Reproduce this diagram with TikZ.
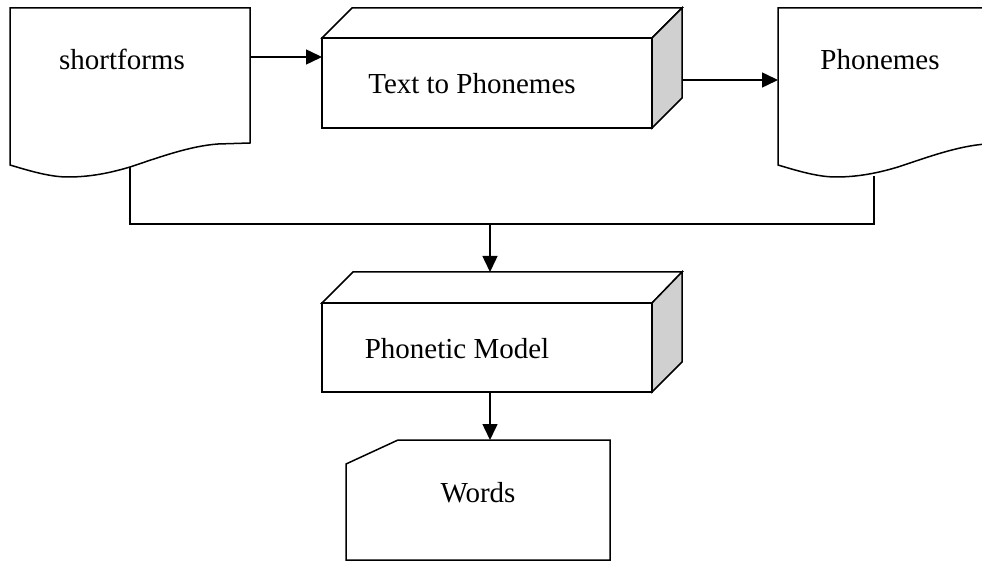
\documentclass[tikz,border=0pt]{standalone}
\usepackage{fontspec}
\setmainfont{Liberation Serif}
\usetikzlibrary{arrows.meta}
\definecolor{sideface}{HTML}{D0D0D0}
\tikzset{
  outline/.style={draw=black, line width=1.5pt, line join=miter},
  conn/.style={draw=black, line width=1.5pt},
  arr/.style={conn, -{Triangle[length=16pt,width=15pt]}},
  label/.style={font=\fontsize{29}{34}\selectfont, inner sep=0pt, anchor=base},
}
\begin{document}
\begin{tikzpicture}[x=1pt,y=-1pt]
\useasboundingbox (0,0) rectangle (982,561);
\clip (0,0) rectangle (982,561);

% document shape: shortforms
\draw[outline, fill=white] (10,8) -- (250,8) -- (250,143) -- (218,144)
  .. controls (190,146) and (160,157) .. (130,167)
  .. controls (110,173) and (90,177) .. (68,177)
  .. controls (50,177) and (30,171) .. (10,165) -- cycle;
\node[label] (sf) at (122,70) {shortforms};
\coordinate (sfR) at (250,57);
\coordinate (sfB) at (130,167);

% 3D box: Text to Phonemes
\draw[outline, fill=white] (322,38) -- (352,8) -- (682,8) -- (652,38) -- cycle;
\draw[outline, fill=sideface] (652,38) -- (682,8) -- (682,98) -- (652,128) -- cycle;
\draw[outline, fill=white] (322,38) rectangle (652,128);
\node[label] (tp) at (472,94) {Text to Phonemes};
\coordinate (tpL) at (322,57);
\coordinate (tpR) at (682,80);

% document shape: Phonemes
\draw[outline, fill=white] (778,8) -- (1018,8) -- (1018,143) -- (986,144)
  .. controls (958,146) and (928,157) .. (898,167)
  .. controls (878,173) and (858,177) .. (836,177)
  .. controls (818,177) and (798,171) .. (778,165) -- cycle;
\node[label] (ph) at (880,70) {Phonemes};
\coordinate (phL) at (778,80);
\coordinate (phB) at (874,176);

% 3D box: Phonetic Model
\draw[outline, fill=white] (322,303) -- (353,272) -- (682,272) -- (652,303) -- cycle;
\draw[outline, fill=sideface] (652,303) -- (682,272) -- (682,362) -- (652,392) -- cycle;
\draw[outline, fill=white] (322,303) rectangle (652,392);
\node[label] (pm) at (457,358) {Phonetic Model};
\coordinate (pmT) at (490,272);
\coordinate (pmB) at (490,392);

% card shape: Words
\draw[outline, fill=white] (346,464) -- (398,440) -- (610,440) -- (610,560) -- (346,560) -- cycle;
\node[label] (wd) at (478,502) {Words};
\coordinate (wdT) at (490,440);

% connectors
\coordinate (joinL) at (130,224);
\coordinate (joinR) at (874,224);
\coordinate (joinM) at (490,224);
\draw[arr] (sfR) -- (tpL);
\draw[arr] (tpR) -- (phL);
\draw[conn] (sfB) -- (joinL) -- (joinR) -- (phB);
\draw[arr] (joinM) -- (pmT);
\draw[arr] (pmB) -- (wdT);
\end{tikzpicture}
\end{document}
